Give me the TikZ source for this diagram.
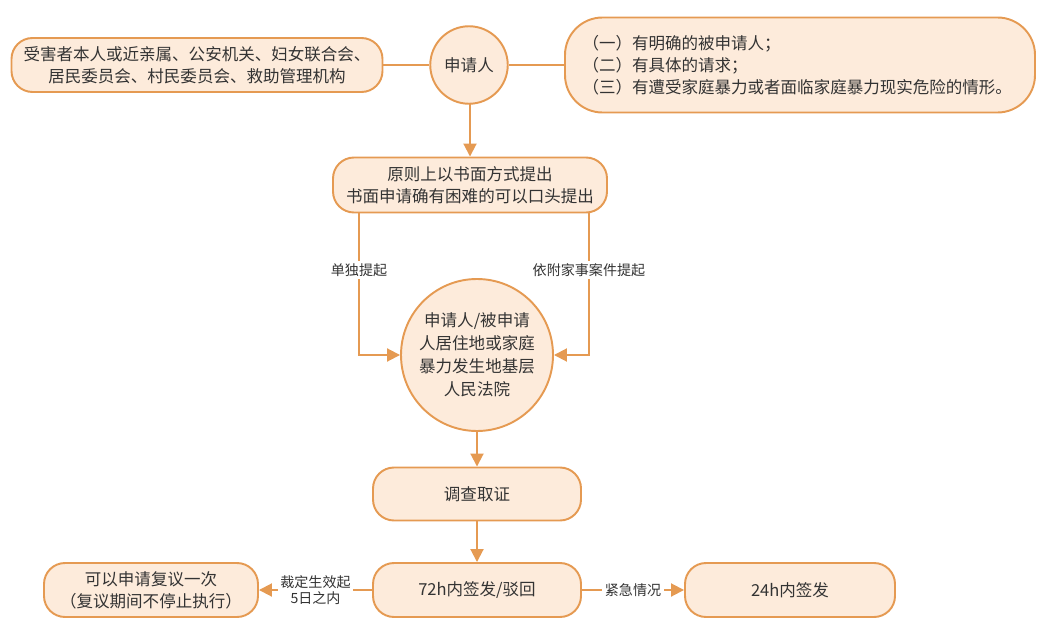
\documentclass[tikz,border=0pt]{standalone}
\usepackage{fontspec}
\newfontfamily\cjk{Noto Sans CJK SC}
\usetikzlibrary{arrows.meta, positioning, shapes.geometric, calc}
\definecolor{corange}{HTML}{E59A52}
\definecolor{cpeach}{HTML}{FDEBDB}
\definecolor{ctext}{HTML}{333333}
\tikzset{
  every picture/.style={font=\cjk, line width=1.1pt},
  box/.style={draw=corange, fill=cpeach, rounded corners=0.42cm, align=center, text=ctext,
    font=\cjk\fontsize{9.4}{12.5}\selectfont, inner sep=4pt},
  disc/.style={circle, draw=corange, fill=cpeach, align=center, text=ctext, inner sep=1pt,
    font=\cjk\fontsize{9.4}{13}\selectfont},
  link/.style={draw=corange, line width=1.1pt},
  arrow/.style={-{Triangle[length=2.6mm, width=2.6mm]}, draw=corange, line width=1.1pt},
  lbl/.style={font=\cjk\fontsize{8}{9.5}\selectfont, text=ctext, fill=white, inner sep=1.5pt, align=center},
}

\begin{document}
\begin{tikzpicture}
  \useasboundingbox (0,0) rectangle (20.84,-12.88);
  \node[box, minimum width=7.42cm, minimum height=1.08cm] (who) at (3.94,-1.30) {受害者本人或近亲属、公安机关、妇女联合会、\\居民委员会、村民委员会、救助管理机构};
  \node[disc, minimum size=1.55cm] (app) at (9.38,-1.30) {申请人};
  \node[box, rounded corners=0.75cm, align=left, minimum width=9.4cm, minimum height=1.9cm, text width=8.7cm] (cond) at (16.0,-1.30) {（一）有明确的被申请人；\\（二）有具体的请求；\\（三）有遭受家庭暴力或者面临家庭暴力现实危险的情形。};
  \draw[link] (who.east) -- (app.west);
  \draw[link] (app.east) -- (cond.west);
  \node[box, minimum width=5.48cm, minimum height=1.10cm] (form) at (9.40,-3.70) {原则上以书面方式提出\\书面申请确有困难的可以口头提出};
  \draw[arrow] (app.south) -- (form.south |- app.south) -- (form.north);
  \node[disc, minimum size=3.04cm] (court) at (9.54,-7.10) {申请人/被申请\\人居住地或家庭\\暴力发生地基层\\人民法院};
  \draw[arrow] ($(form.south west)+(0.54,0)$) |- node[lbl, pos=0.2] {单独提起} (court.west);
  \draw[arrow] ($(form.south east)+(-0.38,0)$) |- node[lbl, pos=0.2] {依附家事案件提起} (court.east);
  \node[box, minimum width=4.16cm, minimum height=1.06cm] (inv) at (9.54,-9.88) {调查取证};
  \draw[arrow] (court.south) -- (inv.north);
  \node[box, minimum width=4.16cm, minimum height=1.08cm] (sign72) at (9.54,-11.80) {72h内签发/驳回};
  \draw[arrow] (inv.south) -- (sign72.north);
  % result branches
  \node[box, minimum width=4.28cm, minimum height=1.08cm] (review) at (3.02,-11.80) {可以申请复议一次\\（复议期间不停止执行）};
  \node[box, minimum width=4.20cm, minimum height=1.08cm] (sign24) at (15.80,-11.80) {24h内签发};
  \draw[arrow] (sign72.west) -- node[lbl] {裁定生效起\\5日之内} (review.east);
  \draw[arrow] (sign72.east) -- node[lbl] {紧急情况} (sign24.west);
\end{tikzpicture}
\end{document}
